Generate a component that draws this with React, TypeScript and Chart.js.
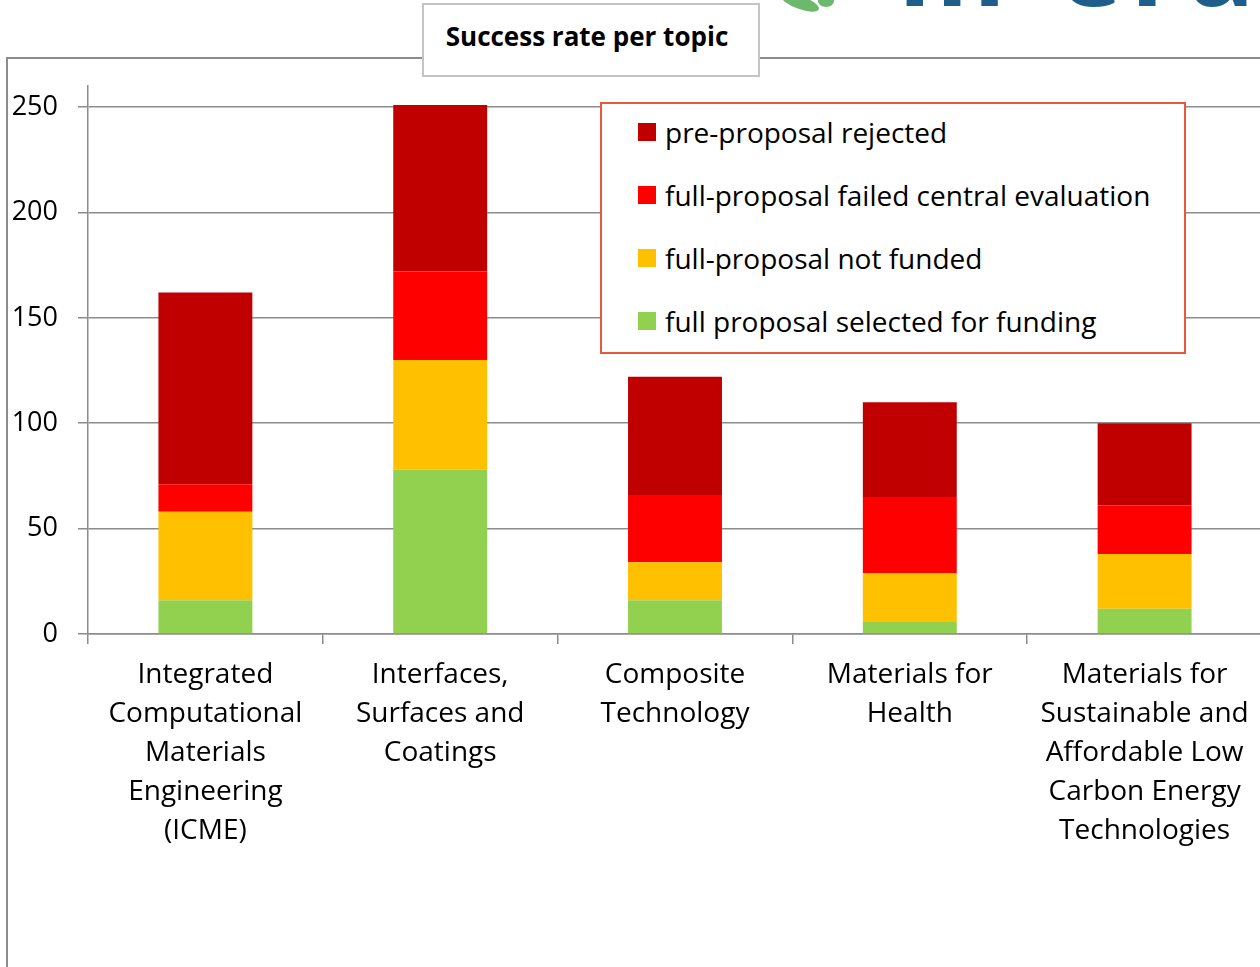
import React, { useEffect, useRef } from "react";
import { Chart, registerables } from "chart.js";

Chart.register(...registerables);

const categories: string[][] = [
  ["Integrated", "Computational", "Materials", "Engineering", "(ICME)"],
  ["Interfaces,", "Surfaces and", "Coatings"],
  ["Composite", "Technology"],
  ["Materials for", "Health"],
  ["Materials for", "Sustainable and", "Affordable Low", "Carbon Energy", "Technologies"],
];

const selectedForFunding = [16, 78, 16, 6, 12];
const notFunded = [42, 52, 18, 23, 26];
const failedCentral = [13, 42, 32, 36, 23];
const preRejected = [91, 79, 56, 45, 39];

const seriesLabels = [
  "full proposal selected for funding",
  "full-proposal not funded",
  "full-proposal failed central evaluation",
  "pre-proposal rejected",
];
const seriesColors = ["#92D050", "#FFC000", "#FF0000", "#C00000"];

const yTicks = [0, 50, 100, 150, 200, 250];
const yMax = 260;

const FONT = "'Open Sans', sans-serif";
const GRID = "#8c8c8c";

export default function App() {
  const canvasRef = useRef<HTMLCanvasElement | null>(null);

  useEffect(() => {
    if (!canvasRef.current) return;
    const seriesData = [selectedForFunding, notFunded, failedCentral, preRejected];
    const chart = new Chart(canvasRef.current, {
      type: "bar",
      data: {
        labels: categories,
        datasets: seriesData.map((d, i) => ({
          label: seriesLabels[i],
          data: d,
          backgroundColor: seriesColors[i],
          borderWidth: 0,
          barPercentage: 0.4,
          categoryPercentage: 1,
        })),
      },
      options: {
        animation: false,
        responsive: false,
        maintainAspectRatio: false,
        layout: { padding: { top: 86, left: 0, right: 0, bottom: 0 } },
        plugins: {
          legend: { display: false },
          tooltip: { enabled: false },
          title: { display: false },
        },
        scales: {
          x: {
            stacked: true,
            grid: {
              drawOnChartArea: false,
              drawTicks: true,
              tickLength: 10,
              color: GRID,
              lineWidth: 1.5,
              offset: true,
            },
            border: { color: GRID, width: 1.5 },
            ticks: {
              color: "#000",
              font: { family: FONT, size: 28, lineHeight: 39 / 28 },
              padding: 12,
              maxRotation: 0,
              minRotation: 0,
              autoSkip: false,
            },
            afterFit: (s: any) => {
              s.height = 967 - 634;
            },
          },
          y: {
            stacked: true,
            min: 0,
            max: yMax,
            afterBuildTicks: (axis: any) => {
              axis.ticks = yTicks.map((v) => ({ value: v }));
            },
            grid: {
              color: GRID,
              lineWidth: 1.5,
              tickLength: 10,
              drawTicks: true,
            },
            border: { color: GRID, width: 1.5 },
            ticks: {
              color: "#000",
              font: { family: FONT, size: 27 },
              padding: 20,
            },
            afterFit: (s: any) => {
              s.width = 88;
            },
          },
        },
      },
    });
    return () => chart.destroy();
  }, []);

  const legendRows = [3, 2, 1, 0];
  const rowCenters = [133, 196, 259, 322];

  return (
    <div
      style={{
        position: "fixed",
        left: 0,
        top: 0,
        width: 1260,
        height: 967,
        overflow: "hidden",
        background: "#fff",
        fontFamily: FONT,
      }}
    >
      {/* logo fragment */}
      <div style={{ position: "absolute", left: 780, top: -4, width: 40, height: 13, borderRadius: "50%", background: "#6cb86c", transform: "rotate(20deg)" }} />
      <div style={{ position: "absolute", left: 818, top: -5, width: 16, height: 12, borderRadius: "50%", background: "#6cb86c" }} />
      <div
        style={{
          position: "absolute",
          left: 898,
          top: -92,
          fontSize: 110,
          fontWeight: 700,
          color: "#1d5f8a",
          fontFamily: FONT,
          whiteSpace: "nowrap",
          lineHeight: "110px",
          letterSpacing: 8,
        }}
      >
        m-era.net
      </div>

      {/* outer frame */}
      <div
        style={{
          position: "absolute",
          left: 6,
          top: 57,
          width: 1400,
          height: 1000,
          borderTop: `2px solid ${GRID}`,
          borderLeft: `2px solid ${GRID}`,
          boxSizing: "border-box",
        }}
      />

      <canvas
        ref={canvasRef}
        width={1262}
        height={967}
        style={{ position: "absolute", left: 0, top: 0, width: 1262, height: 967, display: "block" }}
      />

      {/* title box */}
      <div
        style={{
          position: "absolute",
          left: 422,
          top: 3,
          width: 338,
          height: 74,
          boxSizing: "border-box",
          border: "2px solid #c4c4c4",
          background: "#fff",
          display: "flex",
          alignItems: "center",
          justifyContent: "center",
          paddingBottom: 8,
          paddingRight: 8,
        }}
      >
        <span style={{ fontSize: 26, fontWeight: 700, color: "#000", fontFamily: FONT }}>Success rate per topic</span>
      </div>

      {/* legend */}
      <div
        style={{
          position: "absolute",
          left: 600,
          top: 102,
          width: 586,
          height: 252,
          boxSizing: "border-box",
          border: "2px solid #E8593A",
          background: "#fff",
        }}
      >
        {legendRows.map((si, r) => (
          <div
            key={si}
            style={{
              position: "absolute",
              left: 36,
              top: rowCenters[r] - 102 - 2 - 21,
              height: 40,
              display: "flex",
              alignItems: "center",
              whiteSpace: "nowrap",
            }}
          >
            <div style={{ width: 18, height: 18, background: seriesColors[si], marginRight: 9 }} />
            <span style={{ fontSize: 28, color: "#000", fontFamily: FONT }}>{seriesLabels[si]}</span>
          </div>
        ))}
      </div>
    </div>
  );
}
